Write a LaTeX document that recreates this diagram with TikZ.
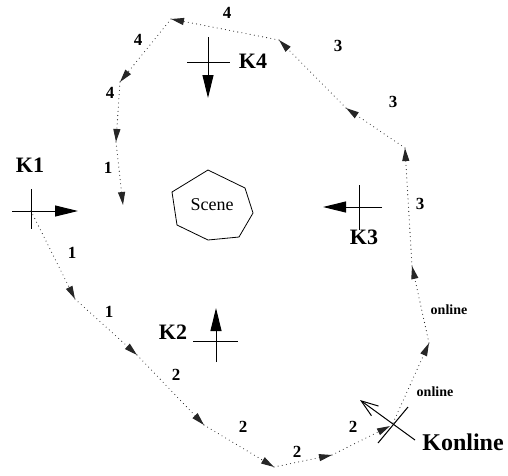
\documentclass[tikz,border=0pt]{standalone}
\usepackage{fontspec}
\setmainfont{Liberation Serif}
\usetikzlibrary{arrows.meta}
\begin{document}
\begin{tikzpicture}[x=1pt,y=-1pt,
  traj/.style={line width=1.1pt, line cap=round, dash pattern=on 0pt off 4.2pt, black!85,
    -{Triangle[length=13pt,width=7pt]}},
  camline/.style={line width=1pt},
  camarrow/.style={line width=1pt,-{Triangle[length=23pt,width=11pt]}},
  num/.style={font=\bfseries\fontsize{17}{17}\selectfont, inner sep=0pt},
  klab/.style={font=\bfseries\fontsize{22}{22}\selectfont, inner sep=0pt},
  onl/.style={font=\bfseries\fontsize{14}{14}\selectfont, inner sep=0pt}]
\useasboundingbox (0,0) rectangle (508,475);

% camera crosses
\coordinate (c1) at (31,211);
\coordinate (c4) at (208,62);
\coordinate (c3) at (359,207);
\coordinate (c2) at (216,341);
\coordinate (co) at (393,423);

\coordinate (c1w) at (12,211);  \coordinate (c1n) at (31,189); \coordinate (c1s) at (31,229); \coordinate (c1a) at (78,211);
\draw[camline] (c1w) -- (c1); \draw[camline] (c1n) -- (c1s); \draw[camarrow] (c1) -- (c1a);

\coordinate (c4w) at (187,62);  \coordinate (c4e) at (230,62); \coordinate (c4n) at (208,37); \coordinate (c4a) at (208,98);
\draw[camline] (c4w) -- (c4e); \draw[camline] (c4n) -- (c4); \draw[camarrow] (c4) -- (c4a);

\coordinate (c3e) at (382,207);  \coordinate (c3n) at (359,185); \coordinate (c3s) at (359,230); \coordinate (c3a) at (323,207);
\draw[camline] (c3e) -- (c3); \draw[camline] (c3n) -- (c3s); \draw[camarrow] (c3) -- (c3a);

\coordinate (c2w) at (193,341);  \coordinate (c2e) at (238,341); \coordinate (c2s) at (216,362); \coordinate (c2a) at (216,308);
\draw[camline] (c2w) -- (c2e); \draw[camline] (c2s) -- (c2); \draw[camarrow] (c2) -- (c2a);

\coordinate (cox1) at (378,443); \coordinate (cox2) at (408,407);
\coordinate (coy1) at (415,440); \coordinate (coa) at (360,400);
\draw[camline] (cox1) -- (cox2);
\draw[camline,-{Straight Barb[length=17pt,width=12pt]}] (coy1) -- (coa);

% scene
\draw[line width=0.8pt] (208,170) -- (245,188) -- (253,213) -- (239,237) -- (208,240) -- (177,225) -- (172,192) -- cycle;
\node[font=\fontsize{18}{18}\selectfont, inner sep=0pt] (scene) at (212,205) {Scene};

% labels
\node[klab] (k1) at (30,165) {K1};
\node[klab] (k4) at (253,61) {K4};
\node[klab] (k3) at (364,237) {K3};
\node[klab] (k2) at (173,332) {K2};
\node[font=\bfseries\fontsize{24}{24}\selectfont, inner sep=0pt] (kon) at (463,442) {Konline};

% trajectory points
\coordinate (a0) at (31,211);
\coordinate (a1) at (75,299);
\coordinate (a2) at (137,355);
\coordinate (a3) at (204,425);
\coordinate (a4) at (274,467);
\coordinate (a5) at (332,455);
\coordinate (a6) at (390,426);
\coordinate (a7) at (429,343);
\coordinate (a8) at (412,266);
\coordinate (a9) at (405,148);
\coordinate (a10) at (346,108);
\coordinate (a11) at (279,40);
\coordinate (a12) at (171,19);
\coordinate (a13) at (120,82);
\coordinate (a14) at (116,142);
\coordinate (a15) at (123,205);

\draw[traj] (a0) -- (a1);
\draw[traj] (a1) -- (a2);
\draw[traj] (a2) -- (a3);
\draw[traj] (a3) -- (a4);
\draw[traj] (a4) -- (a5);
\draw[traj] (a5) -- (a6);
\draw[traj] (co) -- (a7);
\draw[traj] (a7) -- (a8);
\draw[traj] (a8) -- (a9);
\draw[traj] (a9) -- (a10);
\draw[traj] (a10) -- (a11);
\draw[traj] (a11) -- (a12);
\draw[traj] (a12) -- (a13);
\draw[traj] (a13) -- (a14);
\draw[traj] (a14) -- (a15);

% segment labels
\node[num] (n1) at (72,253) {1};
\node[num] (n2) at (109,312) {1};
\node[num] (n3) at (176,375) {2};
\node[num] (n4) at (243,427) {2};
\node[num] (n5) at (297,452) {2};
\node[num] (n6) at (353,427) {2};
\node[onl] (n7) at (435,392) {online};
\node[onl] (n8) at (449,310) {online};
\node[num] (n9) at (420,204) {3};
\node[num] (n10) at (393,102) {3};
\node[num] (n11) at (338,46) {3};
\node[num] (n12) at (227,13) {4};
\node[num] (n13) at (138,40) {4};
\node[num] (n14) at (110,93) {4};
\node[num] (n15) at (108,168) {1};
\end{tikzpicture}
\end{document}
